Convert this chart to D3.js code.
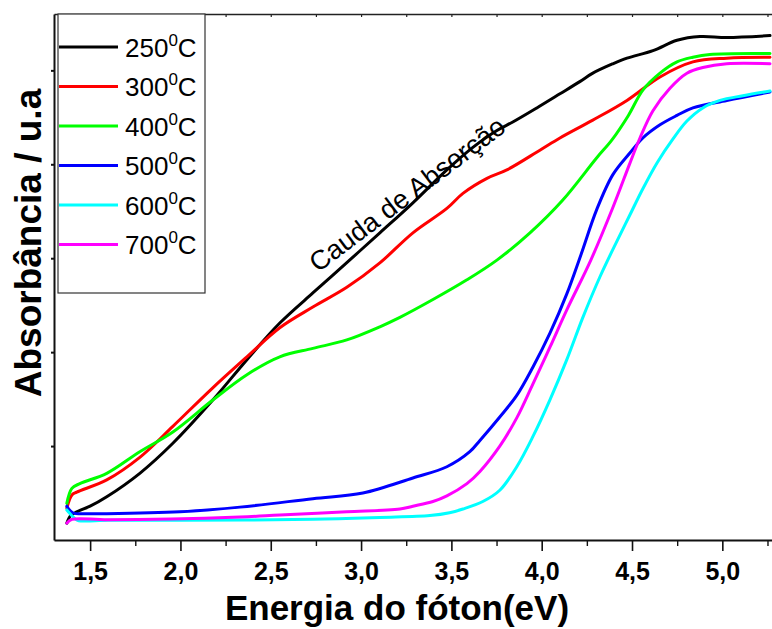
<!DOCTYPE html>
<html>
<head>
<meta charset="utf-8">
<script src="https://cdn.jsdelivr.net/npm/d3@7"></script>
<style>
  html, body { margin: 0; padding: 0; background: #fff; }
  svg { display: block; font-family: Arial, "Liberation Sans", sans-serif; }
</style>
</head>
<body>
<svg id="chart" width="772" height="629"></svg>
<script>
// Photon energy (eV) and absorbance (a.u.) for each annealing temperature
const e250 = [1.371,1.393,1.426,1.50,1.592,1.775,1.958,2.179,2.368,2.550,2.733,2.844,3.104,3.287,3.475,3.619,3.752,3.840,3.973,4.101,4.211,4.283,4.394,4.472,4.616,4.749,4.876,5.025,5.264];
const a250 = [0.18,0.26,0.30,0.36,0.46,0.71,1.03,1.49,1.92,2.31,2.63,2.82,3.27,3.59,3.94,4.18,4.36,4.45,4.60,4.75,4.88,4.97,5.07,5.13,5.21,5.32,5.36,5.35,5.37];

const e300 = [1.371,1.399,1.426,1.592,1.775,1.958,2.179,2.368,2.550,2.733,2.921,3.104,3.287,3.475,3.564,3.697,3.807,3.990,4.101,4.283,4.472,4.655,4.837,5.025,5.264];
const a300 = [0.34,0.48,0.51,0.64,0.88,1.21,1.62,1.95,2.26,2.48,2.69,2.95,3.27,3.53,3.69,3.85,3.94,4.15,4.28,4.47,4.68,4.93,5.09,5.13,5.14];

const e400 = [1.371,1.399,1.443,1.592,1.775,1.958,2.179,2.368,2.550,2.733,2.921,3.104,3.215,3.398,3.586,3.752,3.935,4.117,4.305,4.389,4.480,4.560,4.655,4.749,4.837,4.931,5.264];
const a400 = [0.39,0.55,0.60,0.71,0.94,1.15,1.49,1.76,1.95,2.04,2.13,2.27,2.37,2.56,2.77,2.98,3.27,3.62,4.07,4.26,4.52,4.79,4.97,5.09,5.14,5.17,5.18];

const e500 = [1.371,1.404,1.50,1.592,1.997,2.329,2.733,3.010,3.287,3.475,3.602,3.658,3.768,3.862,3.951,4.045,4.139,4.216,4.305,4.394,4.488,4.560,4.655,4.749,4.837,5.025,5.264];
const a500 = [0.36,0.29,0.28,0.28,0.30,0.35,0.44,0.50,0.66,0.78,0.94,1.06,1.31,1.54,1.84,2.20,2.62,3.03,3.52,3.89,4.12,4.28,4.42,4.52,4.60,4.68,4.77];

const e600 = [1.371,1.404,1.430,1.600,1.997,2.733,3.104,3.381,3.490,3.564,3.674,3.768,3.862,3.951,4.045,4.139,4.228,4.322,4.416,4.488,4.560,4.640,4.727,4.804,4.892,4.987,5.114,5.264];
const a600 = [0.32,0.25,0.21,0.21,0.21,0.22,0.24,0.26,0.29,0.33,0.41,0.53,0.78,1.10,1.49,1.92,2.37,2.80,3.18,3.46,3.74,4.02,4.27,4.46,4.60,4.68,4.73,4.78];

const e700 = [1.371,1.399,1.600,2.329,2.550,2.921,3.215,3.287,3.398,3.475,3.586,3.658,3.768,3.862,3.951,4.045,4.139,4.272,4.394,4.488,4.544,4.616,4.710,4.804,4.892,5.025,5.264];
const a700 = [0.18,0.22,0.215,0.245,0.266,0.30,0.33,0.36,0.41,0.47,0.60,0.73,1.00,1.30,1.66,2.05,2.45,2.98,3.54,4.01,4.28,4.57,4.81,4.97,5.03,5.07,5.07];

const seriesNames = ["250", "300", "400", "500", "600", "700"];
const seriesColors = ["#000000", "#ff0000", "#00ff00", "#0000ff", "#00ffff", "#ff00ff"];
const energies = [e250, e300, e400, e500, e600, e700];
const absorbances = [a250, a300, a400, a500, a600, a700];

const xMajorTicks = [1.5, 2.0, 2.5, 3.0, 3.5, 4.0, 4.5, 5.0];
const xMinorTicks = [1.75, 2.25, 2.75, 3.25, 3.75, 4.25, 4.75, 5.25];
const yTicks = [1, 2, 3, 4, 5];

const xTitle = "Energia do fóton(eV)";
const yTitle = "Absorbância / u.a";
const annotation = "Cauda de Absorção";

const svg = d3.select("#chart");
const plotLeft = 54, plotRight = 772, plotTop = 14, plotBottom = 540;

const x = d3.scaleLinear().domain([1.3, 5.275]).range([plotLeft, plotRight]);
const y = d3.scaleLinear().domain([0, 5.6]).range([plotBottom, plotTop]);

// Curves
const line = d3.line()
  .x(d => x(d[0]))
  .y(d => y(d[1]))
  .curve(d3.curveCatmullRom.alpha(0.5));

const plot = svg.append("g");
energies.forEach((es, i) => {
  const pts = es.map((v, k) => [v, absorbances[i][k]]);
  plot.append("path")
    .datum(pts)
    .attr("d", line)
    .attr("fill", "none")
    .attr("stroke", seriesColors[i])
    .attr("stroke-width", 3)
    .attr("stroke-linejoin", "round")
    .attr("stroke-linecap", "round");
});

// Bottom axis: labelled major ticks and short minor ticks
const fmt = d => d.toFixed(1).replace(".", ",");
const xAxis = svg.append("g")
  .attr("transform", `translate(0,${plotBottom})`)
  .call(d3.axisBottom(x).tickValues(xMajorTicks).tickFormat(fmt).tickSize(11).tickPadding(11).tickSizeOuter(0));
xAxis.select(".domain").attr("stroke", "#111").attr("stroke-width", 2);
xAxis.selectAll(".tick line").attr("stroke", "#111").attr("stroke-width", 1.6);
xAxis.selectAll(".tick text")
  .attr("fill", "#000")
  .attr("font-size", 25)
  .attr("font-weight", "bold")
  .attr("font-family", "Arial, 'Liberation Sans', sans-serif");

const xMinor = svg.append("g")
  .attr("transform", `translate(0,${plotBottom})`)
  .call(d3.axisBottom(x).tickValues(xMinorTicks).tickFormat("").tickSize(6).tickSizeOuter(0));
xMinor.select(".domain").remove();
xMinor.selectAll(".tick line").attr("stroke", "#111").attr("stroke-width", 1.4);

// Top frame with small inward ticks
const xTop = svg.append("g")
  .attr("transform", `translate(0,${plotTop})`)
  .call(d3.axisTop(x).tickValues(xMajorTicks.concat(xMinorTicks)).tickFormat("").tickSize(-3).tickSizeOuter(0));
xTop.select(".domain").attr("stroke", "#222").attr("stroke-width", 1.6);
xTop.selectAll(".tick line").attr("stroke", "#222").attr("stroke-width", 1.2);

// Left axis, unlabelled
const yAxis = svg.append("g")
  .attr("transform", `translate(${plotLeft},0)`)
  .call(d3.axisLeft(y).tickValues(yTicks).tickFormat("").tickSize(3).tickSizeOuter(0));
yAxis.select(".domain").attr("stroke", "#111").attr("stroke-width", 2);
yAxis.selectAll(".tick line").attr("stroke", "#111").attr("stroke-width", 2);

// Axis titles
svg.append("text")
  .attr("x", 397).attr("y", 620)
  .attr("text-anchor", "middle")
  .attr("font-size", 35)
  .attr("font-weight", "bold")
  .text(xTitle);

svg.append("text")
  .attr("transform", "translate(41,243) rotate(-90)")
  .attr("text-anchor", "middle")
  .attr("font-size", 37)
  .attr("font-weight", "bold")
  .text(yTitle);

// Rotated note along the absorption edge
svg.append("text")
  .attr("transform", "translate(318,273) rotate(-37)")
  .attr("font-size", 27)
  .text(annotation);

// Legend
const legend = svg.append("g");
legend.append("rect")
  .attr("x", 58).attr("y", plotTop)
  .attr("width", 147).attr("height", 279)
  .attr("fill", "#fff")
  .attr("stroke", "#333")
  .attr("stroke-width", 1.2);

seriesNames.forEach((name, i) => {
  const ly = 47 + i * 39.5;
  legend.append("line")
    .attr("x1", 59).attr("x2", 118)
    .attr("y1", ly).attr("y2", ly)
    .attr("stroke", seriesColors[i])
    .attr("stroke-width", 3);
  const t = legend.append("text")
    .attr("x", 125).attr("y", ly + 9.5)
    .attr("font-size", 26);
  t.append("tspan").text(name);
  t.append("tspan").attr("font-size", 17).attr("dy", -11).text("0");
  t.append("tspan").attr("dy", 11).text("C");
});
</script>
</body>
</html>
